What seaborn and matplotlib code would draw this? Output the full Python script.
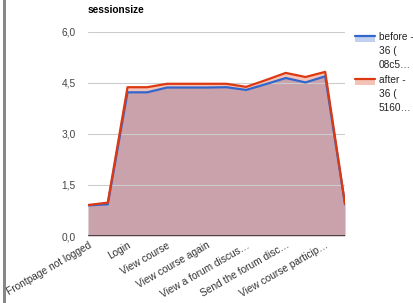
import matplotlib
matplotlib.use("Agg")
import matplotlib.pyplot as plt
import seaborn as sns
import pandas as pd
from matplotlib.patches import Rectangle
from matplotlib.lines import Line2D

# categories (only every second one is labelled on the axis)
steps = ['Frontpage not logged', 'Login form', 'Login', 'Dashboard',
         'View course', 'View course page', 'View course again', 'View forum list',
         'View a forum discus\u2026', 'Reply form', 'Send the forum disc\u2026',
         'View course again 2', 'View course particip\u2026', 'Logout']

before = [0.90, 0.93, 4.22, 4.22, 4.36, 4.36, 4.36, 4.37, 4.29, 4.46, 4.64, 4.51, 4.69, 0.93]
after = [0.91, 0.98, 4.37, 4.37, 4.47, 4.47, 4.47, 4.47, 4.38, 4.58, 4.79, 4.67, 4.82, 0.95]

yticks = [0.0, 1.5, 3.0, 4.5, 6.0]
yticklabels = ['0,0', '1,5', '3,0', '4,5', '6,0']

blue = '#3366cc'
red = '#dc3912'
fs = 7.3

df = pd.DataFrame({'x': range(len(steps)), 'before': before, 'after': after})

sns.set_style('white')
plt.rcParams['font.family'] = ['Liberation Sans', 'DejaVu Sans']

fig = plt.figure(figsize=(4.13, 3.03), dpi=100)
ax = fig.add_axes([88 / 413, 67 / 303, 257 / 413, 204.3 / 303])

# areas first, lines on top (like google charts)
ax.fill_between(df['x'], 0, df['before'], color=blue, alpha=0.3, lw=0, zorder=1)
ax.fill_between(df['x'], 0, df['after'], color=red, alpha=0.3, lw=0, zorder=1)
sns.lineplot(data=df, x='x', y='before', color=blue, lw=1.6, ax=ax, zorder=3)
sns.lineplot(data=df, x='x', y='after', color=red, lw=1.6, ax=ax, zorder=3)

ax.set_xlim(0, len(steps) - 1)
ax.set_ylim(0, 6)
ax.set_yticks(yticks)
ax.set_yticklabels(yticklabels, fontsize=fs, color='#444444')
for t in yticks[1:]:
    ax.axhline(t, color='#cccccc', lw=0.8, zorder=2)
ax.axhline(0, color='#333333', lw=1.2, zorder=4)

ax.set_xticks(df['x'][::2])
ax.set_xticklabels(steps[::2], rotation=30, ha='right', rotation_mode='anchor',
                   fontsize=fs, color='#333333')
ax.tick_params(axis='y', length=0, pad=9)
ax.tick_params(axis='x', length=0, pad=3)
ax.set_xlabel('')
ax.set_ylabel('')
for s in ax.spines.values():
    s.set_visible(False)

fig.text(88 / 413, 1 - 10 / 303, 'sessionsize', fontsize=fs, fontweight='bold',
         va='center', ha='left', color='#000000')

# legend
def legend_entry(y, color, lines):
    fig.add_artist(Rectangle((355 / 413, 1 - (y + 5) / 303), 20 / 413, 7 / 303,
                             transform=fig.transFigure, color=color, alpha=0.3, lw=0))
    fig.add_artist(Line2D([355 / 413, 375 / 413], [1 - (y - 1.5) / 303] * 2,
                          transform=fig.transFigure, color=color, lw=1.6))
    for i, txt in enumerate(lines):
        fig.text(379 / 413, 1 - (y + i * 14) / 303, txt, fontsize=fs,
                 color='#222222', va='center', ha='left')

legend_entry(37, blue, ['before -', '36 (', '08c5\u2026'])
legend_entry(80, red, ['after -', '36 (', '5160\u2026'])

# grey border at left edge
fig.add_artist(Rectangle((3 / 413, 0), 3 / 413, 1, transform=fig.transFigure,
                         color='#888888', lw=0, zorder=10))

fig.savefig('out.png', dpi=100)
